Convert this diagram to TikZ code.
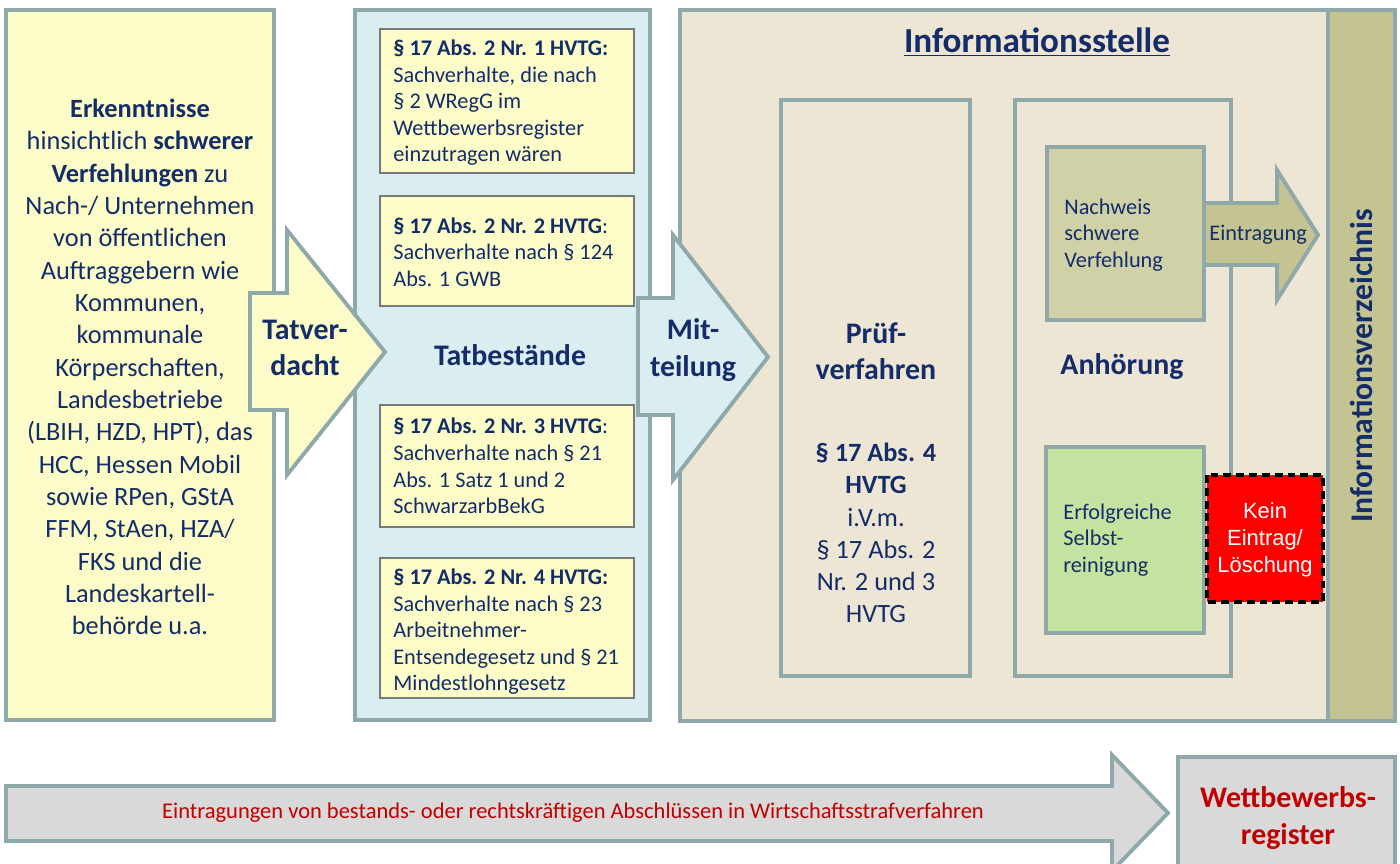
\documentclass[tikz,border=0pt]{standalone}
\usepackage{fontspec}
\setmainfont{Carlito}
\newfontfamily\arialfont{Liberation Sans}
\usetikzlibrary{positioning}
\definecolor{rim}{RGB}{143,169,171}
\definecolor{navy}{RGB}{20,45,105}
\definecolor{paleyellow}{RGB}{252,252,200}
\definecolor{paleblue}{RGB}{218,237,241}
\definecolor{beige}{RGB}{238,230,212}
\definecolor{olive}{RGB}{196,196,146}
\definecolor{lightolive}{RGB}{208,209,166}
\definecolor{lightgreen}{RGB}{197,227,160}
\definecolor{lightgrey}{RGB}{217,217,217}
\definecolor{darkred}{RGB}{192,0,0}
\tikzset{
  panel/.style={draw=rim, line width=2.2pt},
  lawbox/.style={draw=gray!95!black, line width=1.6pt, fill=paleyellow},
  bigtext/.style={font=\fontsize{15}{18.4}\selectfont, align=center},
  headtext/.style={font=\bfseries\fontsize{17}{20.6}\selectfont, align=center},
  smalltext/.style={font=\fontsize{12.7}{15.1}\selectfont, align=left, inner sep=0pt, anchor=west}
}
\begin{document}
\begin{tikzpicture}[x=0.02cm, y=-0.02cm, every node/.style={text=navy}]
\useasboundingbox (0,0) rectangle (1400,863);
\clip (0,0) rectangle (1400,863);
% panels
\draw[panel, fill=paleyellow] (6,10) rectangle (274,720);
\draw[panel, fill=paleblue] (355,10) rectangle (650,720);
\draw[panel, fill=beige] (680,10) rectangle (1395,721);
\draw[panel, fill=olive] (1328,10) rectangle (1395,721);
\draw[panel] (781,100) rectangle (970,676);
\draw[panel] (1015,100) rectangle (1231,676);
% Tatbestaende
\draw[lawbox] (380,29) rectangle (634,173);
\draw[lawbox] (380,196) rectangle (634,306);
\draw[lawbox] (380,405) rectangle (634,527);
\draw[lawbox] (380,558) rectangle (634,698);
% block arrows
\draw[panel, fill=paleyellow] (250,293) -- (287,293) -- (287,230) -- (385,352)
  -- (287,475) -- (287,410) -- (250,410) -- cycle;
\draw[panel, fill=paleblue] (638,298) -- (673,298) -- (673,235) -- (768,357)
  -- (673,480) -- (673,415) -- (638,415) -- cycle;
\draw[panel, fill=olive] (1204,203) -- (1277,203) -- (1277,170) -- (1318,235)
  -- (1277,300) -- (1277,265) -- (1204,265) -- cycle;
\draw[panel, fill=lightgrey] (6,786) -- (1112,786) -- (1112,755) -- (1168,813)
  -- (1112,871) -- (1112,841) -- (6,841) -- cycle;
% inner boxes
\draw[panel, fill=lightolive] (1047,147) rectangle (1204,320);
\draw[panel, fill=lightgreen] (1046,447) rectangle (1204,633);
\draw[line width=2pt, dash pattern=on 4.5pt off 2.8pt, fill=red] (1207,475) rectangle (1323,602);
\draw[panel, fill=lightgrey] (1178,757) rectangle (1395,880);
% texts
\node[bigtext] (sources) at (140,367) {\textbf{Erkenntnisse}\\hinsichtlich \textbf{schwerer}\\
  \textbf{Verfehlungen} zu\\Nach-/ Unternehmen\\von öffentlichen\\Auftraggebern wie\\
  Kommunen,\\kommunale\\Körperschaften,\\Landesbetriebe\\(LBIH, HZD, HPT), das\\
  HCC, Hessen Mobil\\sowie RPen, GStA\\FFM, StAen, HZA/\\FKS und die\\
  Landeskartell-\\behörde u.a.};
\node[headtext] (suspicion) at (305,348) {Tatver-\\dacht};
\node[smalltext] (nr1) at (393,103) {\textbf{§ 17 Abs. 2 Nr. 1 HVTG:}\\Sachverhalte, die nach\\
  § 2 WRegG im\\Wettbewerbsregister\\einzutragen wären};
\node[smalltext] (nr2) at (393,252) {\textbf{§ 17 Abs. 2 Nr. 2 HVTG}:\\Sachverhalte nach § 124\\Abs. 1 GWB};
\node[headtext] (facts) at (510,355) {Tatbestände};
\node[smalltext] (nr3) at (393,466) {\textbf{§ 17 Abs. 2 Nr. 3 HVTG}:\\Sachverhalte nach § 21\\
  Abs. 1 Satz 1 und 2\\SchwarzarbBekG};
\node[smalltext] (nr4) at (393,632) {\textbf{§ 17 Abs. 2 Nr. 4 HVTG:}\\Sachverhalte nach § 23\\
  Arbeitnehmer-\\Entsendegesetz und § 21\\Mindestlohngesetz};
\node[headtext] (notice) at (693,350) {Mit-\\teilung};
\node[font=\bfseries\fontsize{20}{24}\selectfont] (office) at (1037,42) {\underline{Informationsstelle}};
\node[headtext] (check) at (876,351) {Prüf-\\verfahren};
\node[bigtext] (checklaw) at (876,533) {\textbf{§ 17 Abs. 4}\\\textbf{HVTG}\\i.V.m.\\§ 17 Abs. 2\\Nr. 2 und 3\\HVTG};
\node[headtext] (hearing) at (1122,367) {Anhörung};
\node[smalltext] (proof) at (1064,235) {Nachweis\\schwere\\Verfehlung};
\node[smalltext] (entry) at (1209,235) {Eintragung};
\node[smalltext] (cleaning) at (1063,540) {Erfolgreiche\\Selbst-\\reinigung};
\node[font=\arialfont\fontsize{12.5}{15.4}\selectfont, align=center, text=white] (noentry) at (1265,540) {Kein\\Eintrag/\\Löschung};
\node[font=\bfseries\fontsize{18}{21}\selectfont, rotate=90] (directory) at (1361,366) {Informationsverzeichnis};
\node[font=\fontsize{12.8}{15.5}\selectfont, text=darkred] (convictions) at (573,813) {Eintragungen von bestands- oder rechtskräftigen Abschlüssen in Wirtschaftsstrafverfahren};
\node[headtext, text=darkred] (register) at (1288,818) {Wettbewerbs-\\register};
\end{tikzpicture}
\end{document}
